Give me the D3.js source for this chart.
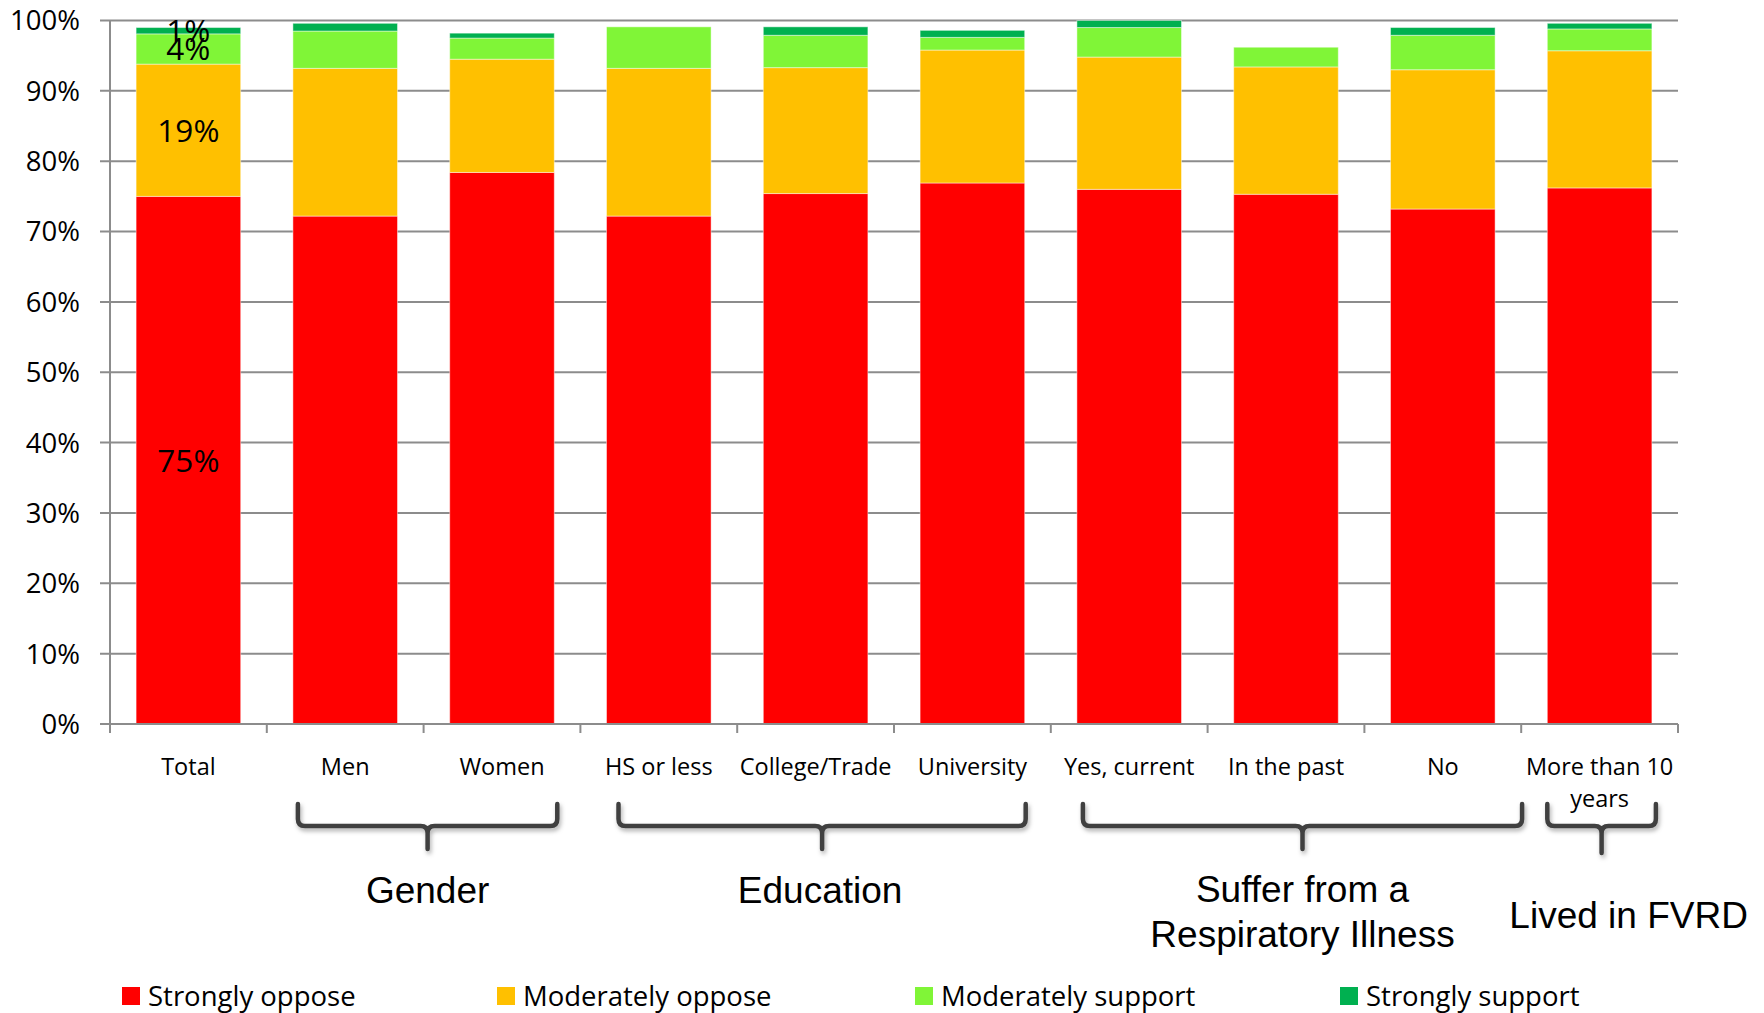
<!DOCTYPE html>
<html>
<head>
<meta charset="utf-8">
<script src="https://cdn.jsdelivr.net/npm/d3@7"></script>
<style>
  html, body { margin: 0; padding: 0; background: #ffffff; }
  svg { display: block; }
</style>
</head>
<body>
<svg id="chart" width="1764" height="1013"></svg>
<script>
// ---------- data ----------
const categories = ["Total", "Men", "Women", "HS or less", "College/Trade", "University",
                    "Yes, current", "In the past", "No", "More than 10 years"];
const seriesNames = ["Strongly oppose", "Moderately oppose", "Moderately support", "Strongly support"];
const stronglyOppose    = [75.0, 72.2, 78.4, 72.2, 75.4, 76.9, 76.0, 75.3, 73.2, 76.2];
const moderatelyOppose  = [18.8, 21.0, 16.1, 21.0, 17.9, 18.9, 18.8, 18.1, 19.8, 19.5];
const moderatelySupport = [4.3, 5.3, 3.0, 5.9, 4.6, 1.8, 4.2, 2.8, 4.9, 3.1];
const stronglySupport   = [0.9, 1.1, 0.7, 0.0, 1.2, 1.0, 1.0, 0.0, 1.1, 0.8];
const totalLabels = ["75%", "19%", "4%", "1%"];   // data labels shown on the Total bar
const yTicks = [0, 10, 20, 30, 40, 50, 60, 70, 80, 90, 100];
const groups = [
  { lines: ["Gender"], first: "Men", last: "Women" },
  { lines: ["Education"], first: "HS or less", last: "University" },
  { lines: ["Suffer from a", "Respiratory Illness"], first: "Yes, current", last: "No" },
  { lines: ["Lived in FVRD"], first: "More than 10 years", last: "More than 10 years" }
];
const colors = ["#FF0000", "#FFC000", "#80F537", "#00B050"];

(function () {
// ---------- layout ----------
const svg = d3.select("#chart");
const pLeft = 110, pRight = 1678, pTop = 20.5, pBottom = 724;

const x = d3.scaleBand().domain(categories).range([pLeft, pRight]).paddingInner(0.333).paddingOuter(0.1665);
const xBand = d3.scaleBand().domain(categories).range([pLeft, pRight]).padding(0);
const y = d3.scaleLinear().domain([0, 100]).range([pBottom, pTop]);

const rows = categories.map((c, i) => ({
  cat: c,
  "Strongly oppose": stronglyOppose[i],
  "Moderately oppose": moderatelyOppose[i],
  "Moderately support": moderatelySupport[i],
  "Strongly support": stronglySupport[i]
}));
const stacked = d3.stack().keys(seriesNames)(rows);

// shadow filter for braces
const defs = svg.append("defs");
const f = defs.append("filter").attr("id", "shadow").attr("x", "-10%").attr("y", "-30%").attr("width", "120%").attr("height", "180%");
f.append("feDropShadow").attr("dx", 1.5).attr("dy", 3).attr("stdDeviation", 2).attr("flood-color", "#000").attr("flood-opacity", 0.3);

// gridlines
svg.append("g").selectAll("line").data(yTicks).join("line")
  .attr("x1", pLeft - 10).attr("x2", pRight)
  .attr("y1", d => y(d)).attr("y2", d => y(d))
  .attr("stroke", "#8c8c8c").attr("stroke-width", 2);

// y axis line
svg.append("line").attr("x1", pLeft).attr("x2", pLeft).attr("y1", y(100)).attr("y2", pBottom)
  .attr("stroke", "#8c8c8c").attr("stroke-width", 2);

// y labels
svg.append("g").selectAll("text").data(yTicks).join("text")
  .attr("x", 80).attr("y", d => y(d)).attr("dy", "0.36em")
  .attr("text-anchor", "end")
  .attr("font-family", "Open Sans").attr("font-size", 27.5).attr("fill", "#000")
  .text(d => d + "%");

// bars
svg.append("g").selectAll("g").data(stacked).join("g")
  .attr("fill", (d, i) => colors[i])
  .selectAll("rect").data(d => d).join("rect")
  .attr("x", d => x(d.data.cat))
  .attr("width", x.bandwidth())
  .attr("y", d => y(d[1]))
  .attr("height", d => Math.max(0, y(d[0]) - y(d[1])))
  .attr("stroke", "#ffffff").attr("stroke-opacity", 0.45).attr("stroke-width", 1);

// x axis line and category ticks
svg.append("line").attr("x1", pLeft - 10).attr("x2", pRight).attr("y1", pBottom).attr("y2", pBottom)
  .attr("stroke", "#8c8c8c").attr("stroke-width", 2);
const tickPos = categories.map(c => xBand(c)).concat([pRight]);
svg.append("g").selectAll("line").data(tickPos).join("line")
  .attr("x1", d => d).attr("x2", d => d).attr("y1", pBottom).attr("y2", pBottom + 9)
  .attr("stroke", "#8c8c8c").attr("stroke-width", 2);

// category labels
const catG = svg.append("g").attr("font-family", "Open Sans").attr("font-size", 23.5).attr("fill", "#000").attr("text-anchor", "middle");
categories.forEach(c => {
  const cx = x(c) + x.bandwidth() / 2;
  const lines = c === "More than 10 years" ? ["More than 10", "years"] : [c];
  lines.forEach((ln, j) => {
    catG.append("text").attr("x", cx).attr("y", 775 + j * 31.5).text(ln);
  });
});

// data labels on Total bar
const totalIdx = 0;
svg.append("g").selectAll("text").data(stacked).join("text")
  .attr("x", x(categories[totalIdx]) + x.bandwidth() / 2)
  .attr("y", d => y((d[totalIdx][0] + d[totalIdx][1]) / 2))
  .attr("dy", "0.36em")
  .attr("text-anchor", "middle")
  .attr("font-family", "Open Sans").attr("font-size", 31.5).attr("fill", "#000")
  .text((d, i) => totalLabels[i]);

// braces and group labels
const braceTop = 804, braceH = 826, r = 7;
const braceAdj = [[5, 3], [12, 1], [6, 27], [0, 4]];
const labelOffset = [0, -2, 0, 27];
const bg = svg.append("g");
groups.forEach((g, gi) => {
  const x1 = x(g.first) + braceAdj[gi][0];
  const x2 = x(g.last) + x.bandwidth() + braceAdj[gi][1];
  const cx = (x1 + x2) / 2;
  const tip = braceH + 23 + (gi === 3 ? 4 : 0);
  const p = d3.path();
  p.moveTo(x1, braceTop);
  p.lineTo(x1, braceH - r);
  p.quadraticCurveTo(x1, braceH, x1 + r, braceH);
  p.lineTo(cx - r, braceH);
  p.quadraticCurveTo(cx, braceH, cx, braceH + r);
  p.lineTo(cx, tip);
  p.moveTo(cx, braceH + r);
  p.quadraticCurveTo(cx, braceH, cx + r, braceH);
  p.lineTo(x2 - r, braceH);
  p.quadraticCurveTo(x2, braceH, x2, braceH - r);
  p.lineTo(x2, braceTop);
  bg.append("path").attr("d", p.toString())
    .attr("fill", "none").attr("stroke", "#404040").attr("stroke-width", 4.5)
    .attr("stroke-linecap", "round").attr("stroke-linejoin", "round")
    .attr("filter", "url(#shadow)");
  const n = g.lines.length;
  const baseY = n === 1 ? (gi === 3 ? 928 : 903) : 902;
  g.lines.forEach((ln, j) => {
    bg.append("text").attr("x", cx + labelOffset[gi]).attr("y", baseY + j * 45)
      .attr("text-anchor", "middle")
      .attr("font-family", "Liberation Sans, Arial, sans-serif").attr("font-size", 37)
      .attr("fill", "#000").text(ln);
  });
});

// legend
const legendX = [122, 497, 915, 1340];
const lg = svg.append("g");
seriesNames.forEach((s, i) => {
  lg.append("rect").attr("x", legendX[i]).attr("y", 987).attr("width", 18).attr("height", 18).attr("fill", colors[i]);
  lg.append("text").attr("x", legendX[i] + 26).attr("y", 1006)
    .attr("font-family", "Open Sans").attr("font-size", 27.5).attr("fill", "#000").text(s);
});
})();
</script>
</body>
</html>
